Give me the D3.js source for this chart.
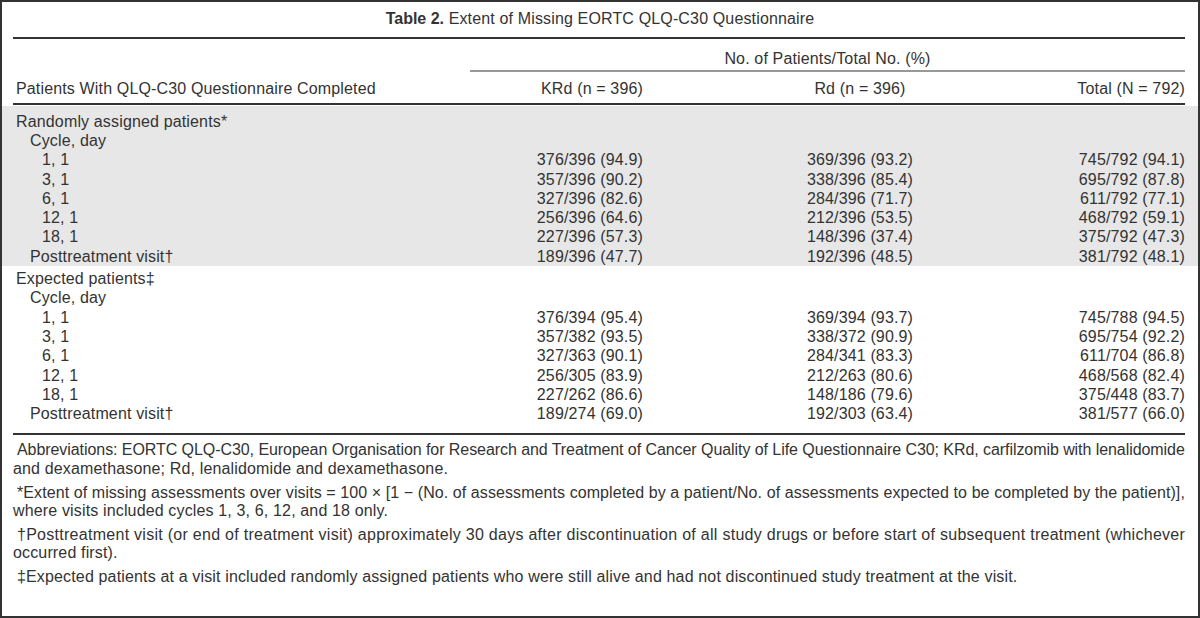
<!DOCTYPE html>
<html>
<head>
<meta charset="utf-8">
<script src="https://cdn.jsdelivr.net/npm/d3@7"></script>
<style>
  body { margin: 0; background: #fff; }
  text { font-family: "Liberation Sans", Arial, sans-serif; fill: #333; }
</style>
</head>
<body>
<div id="table"></div>
<script>
// ---- data ----
var title_bold = "Table 2.";
var title_rest = " Extent of Missing EORTC QLQ-C30 Questionnaire";
var group_header = "No. of Patients/Total No. (%)";
var col_headers = ["Patients With QLQ-C30 Questionnaire Completed", "KRd (n = 396)", "Rd (n = 396)", "Total (N = 792)"];

var sections = ["Randomly assigned patients*", "Expected patients\u2021"];
var visits = ["1, 1", "3, 1", "6, 1", "12, 1", "18, 1", "Posttreatment visit\u2020"];

var krd_done = [376, 357, 327, 256, 227, 189];
var rd_done = [369, 338, 284, 212, 148, 192];
var total_done = [745, 695, 611, 468, 375, 381];

// randomly assigned patients
var rand_krd_n = [396, 396, 396, 396, 396, 396];
var rand_rd_n = [396, 396, 396, 396, 396, 396];
var rand_total_n = [792, 792, 792, 792, 792, 792];
var rand_krd_pct = [94.9, 90.2, 82.6, 64.6, 57.3, 47.7];
var rand_rd_pct = [93.2, 85.4, 71.7, 53.5, 37.4, 48.5];
var rand_total_pct = [94.1, 87.8, 77.1, 59.1, 47.3, 48.1];

// expected patients
var exp_krd_n = [394, 382, 363, 305, 262, 274];
var exp_rd_n = [394, 372, 341, 263, 186, 303];
var exp_total_n = [788, 754, 704, 568, 448, 577];
var exp_krd_pct = [95.4, 93.5, 90.1, 83.9, 86.6, 69.0];
var exp_rd_pct = [93.7, 90.9, 83.3, 80.6, 79.6, 63.4];
var exp_total_pct = [94.5, 92.2, 86.8, 82.4, 83.7, 66.0];

var footnotes = [
  {text: "Abbreviations: EORTC QLQ-C30, European Organisation for Research and Treatment of Cancer Quality of Life Questionnaire C30; KRd, carfilzomib with lenalidomide", indent: true, justify: true},
  {text: "and dexamethasone; Rd, lenalidomide and dexamethasone.", indent: false, justify: false},
  {text: "*Extent of missing assessments over visits = 100 \u00d7 [1 \u2212 (No. of assessments completed by a patient/No. of assessments expected to be completed by the patient)],", indent: true, justify: true},
  {text: "where visits included cycles 1, 3, 6, 12, and 18 only.", indent: false, justify: false},
  {text: "\u2020Posttreatment visit (or end of treatment visit) approximately 30 days after discontinuation of all study drugs or before start of subsequent treatment (whichever", indent: true, justify: true},
  {text: "occurred first).", indent: false, justify: false},
  {text: "\u2021Expected patients at a visit included randomly assigned patients who were still alive and had not discontinued study treatment at the visit.", indent: true, justify: false}
];

// ---- layout ----
var width = 1200, height = 618;
var left = 13, right = 1185;
var font_size = "16px";
var spacing = "0.15px";

var svg = d3.select("#table").append("svg")
    .attr("width", width)
    .attr("height", height);

// build body rows
var rows = [];
sections.forEach(function(s, si) {
  var kn = si == 0 ? rand_krd_n : exp_krd_n,
      rn = si == 0 ? rand_rd_n : exp_rd_n,
      tn = si == 0 ? rand_total_n : exp_total_n,
      kp = si == 0 ? rand_krd_pct : exp_krd_pct,
      rp = si == 0 ? rand_rd_pct : exp_rd_pct,
      tp = si == 0 ? rand_total_pct : exp_total_pct;
  rows.push({label: s, level: 0, section: si});
  rows.push({label: "Cycle, day", level: 1, section: si});
  visits.forEach(function(v, i) {
    rows.push({
      label: v,
      level: i == visits.length - 1 ? 1 : 2,
      section: si,
      cells: [
        krd_done[i] + "/" + kn[i] + " (" + kp[i].toFixed(1) + ")",
        rd_done[i] + "/" + rn[i] + " (" + rp[i].toFixed(1) + ")",
        total_done[i] + "/" + tn[i] + " (" + tp[i].toFixed(1) + ")"
      ]
    });
  });
});

var pitch = 19.3, gap = 3;
var y = d3.scaleLinear().domain([0, 1]).range([121, 121 + pitch]);
function rowY(i) { return y(i) + (i >= 8 ? gap : 0); }

var indent = [16, 30, 42];
var col_x = [643, 860, 1185];
var col_anchor = ["end", "middle", "end"];

// shading behind the first section
svg.append("rect")
    .attr("x", 2).attr("y", 106)
    .attr("width", width - 4).attr("height", 160)
    .attr("fill", "#e7e7e7");

// frame
svg.append("rect")
    .attr("x", 1).attr("y", 1)
    .attr("width", width - 2).attr("height", height - 2)
    .attr("fill", "none")
    .attr("stroke", "#333")
    .attr("stroke-width", 2);

// title
var title = svg.append("text")
    .attr("x", width / 2).attr("y", 18)
    .attr("dy", "0.35em")
    .attr("text-anchor", "middle")
    .attr("font-size", font_size)
    .style("letter-spacing", spacing);
title.append("tspan").attr("font-weight", "bold").style("letter-spacing", "0px").text(title_bold);
title.append("tspan").text(title_rest);

// rules
function hline(x1, x2, yy, w) {
  svg.append("line")
      .attr("x1", x1).attr("x2", x2)
      .attr("y1", yy).attr("y2", yy)
      .attr("stroke", "#333")
      .attr("stroke-width", w);
}
hline(left, right, 38, 2);
hline(470, right, 71, 1);
hline(left, right, 104, 2);
hline(left, right, 434, 2);

// header
svg.append("text")
    .attr("x", (470 + right) / 2).attr("y", 58)
    .attr("dy", "0.35em")
    .attr("text-anchor", "middle")
    .attr("font-size", font_size)
    .style("letter-spacing", spacing)
    .text(group_header);

svg.selectAll(".colhead")
    .data(col_headers)
  .enter().append("text")
    .attr("class", "colhead")
    .attr("x", function(d, i) { return i == 0 ? indent[0] : col_x[i - 1]; })
    .attr("y", 88)
    .attr("dy", "0.35em")
    .attr("text-anchor", function(d, i) { return i == 0 ? "start" : col_anchor[i - 1]; })
    .attr("font-size", font_size)
    .style("letter-spacing", spacing)
    .text(function(d) { return d; });

// body
var row = svg.selectAll(".row")
    .data(rows)
  .enter().append("g")
    .attr("class", "row")
    .attr("transform", function(d, i) { return "translate(0," + rowY(i) + ")"; });

row.append("text")
    .attr("x", function(d) { return indent[d.level]; })
    .attr("dy", "0.35em")
    .attr("font-size", font_size)
    .style("letter-spacing", spacing)
    .text(function(d) { return d.label; });

row.filter(function(d) { return d.cells; })
  .selectAll(".cell")
    .data(function(d) { return d.cells; })
  .enter().append("text")
    .attr("class", "cell")
    .attr("x", function(d, i) { return col_x[i]; })
    .attr("dy", "0.35em")
    .attr("text-anchor", function(d, i) { return col_anchor[i]; })
    .attr("font-size", font_size)
    .style("letter-spacing", spacing)
    .text(function(d) { return d; });

// footnotes
var foot_y = [449, 468, 492, 510, 534, 552, 576];
svg.selectAll(".foot")
    .data(footnotes)
  .enter().append("text")
    .attr("class", "foot")
    .attr("x", function(d) { return d.indent ? left + 4 : left; })
    .attr("y", function(d, i) { return foot_y[i]; })
    .attr("dy", "0.35em")
    .attr("font-size", font_size)
    .style("letter-spacing", spacing)
    .each(function(d) {
      if (d.justify) {
        d3.select(this)
          .attr("textLength", right - (d.indent ? left + 4 : left))
          .attr("lengthAdjust", "spacing");
      }
    })
    .text(function(d) { return d.text; });
</script>
</body>
</html>
